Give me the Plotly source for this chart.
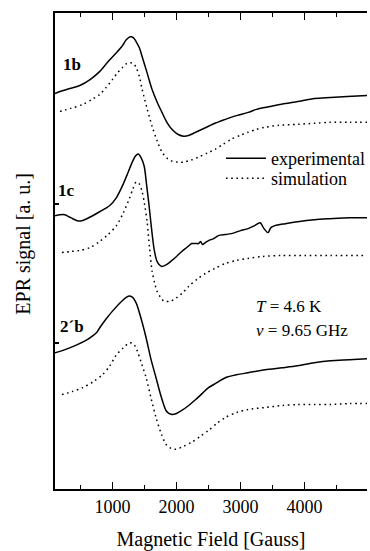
import plotly.graph_objects as go

# Magnetic field (Gauss) and EPR signal (arbitrary units, vertically offset per sample)
b1_exp_field = [103, 180, 336, 490, 650, 799, 930, 1062, 1155, 1216, 1278, 1330, 1371, 1420, 1464, 1540, 1619, 1700, 1773, 1850, 1928, 2020, 2113, 2200, 2299, 2400, 2500, 2600, 2680, 2763, 2850, 2950, 3118, 3250, 3380, 3536, 3700, 3892, 4155, 4402, 4665, 4974]
b1_exp_signal = [398, 400, 403, 406, 412, 420, 430, 439, 446, 452, 455, 454, 450, 444, 435, 419, 402, 389, 379, 369, 362, 357, 355, 356, 359, 362, 365, 368, 370, 372, 374, 376, 379, 382, 384, 386, 388, 390, 393, 394, 395, 396]

b1_sim_field = [180, 350, 536, 680, 799, 900, 1000, 1080, 1155, 1220, 1278, 1330, 1371, 1420, 1464, 1540, 1619, 1700, 1773, 1850, 1928, 2020, 2113, 2230, 2345, 2480, 2608, 2730, 2856, 3000, 3118, 3250, 3381, 3600, 3892, 4150, 4402, 4700, 4974]
b1_sim_signal = [380, 383, 387, 392, 397, 404, 412, 419, 424, 428, 429, 428, 424, 415, 402, 383, 365, 350, 339, 333, 330, 329, 329, 331, 334, 338, 342, 347, 352, 356, 359, 362, 364, 366, 367, 368, 369, 369, 369]

c1_exp_field = [103, 180, 258, 320, 381, 450, 521, 600, 691, 800, 954, 1060, 1155, 1240, 1309, 1360, 1402, 1450, 1495, 1535, 1572, 1610, 1649, 1690, 1727, 1773, 1850, 1928, 2000, 2082, 2160, 2237, 2300, 2345, 2376, 2407, 2450, 2500, 2580, 2655, 2760, 2856, 3000, 3118, 3220, 3304, 3366, 3428, 3474, 3536, 3700, 3892, 4155, 4402, 4700, 4974]
c1_exp_signal = [275, 276, 276, 274, 272, 270, 270, 272, 275, 279, 285, 293, 305, 318, 329, 335, 337, 333, 325, 305, 285, 262, 242, 230, 226, 224, 226, 230, 234, 239, 243, 247, 247, 247, 249, 246, 248, 250, 252, 255, 256, 257, 260, 262, 265, 268, 262, 258, 263, 265, 267, 269, 271, 272, 273, 273]

c1_sim_field = [211, 350, 490, 650, 799, 930, 1062, 1170, 1263, 1320, 1371, 1420, 1464, 1500, 1541, 1580, 1619, 1660, 1696, 1750, 1804, 1900, 1990, 2090, 2191, 2320, 2454, 2600, 2763, 2940, 3118, 3350, 3629, 4000, 4402, 4974]
c1_sim_signal = [238, 239, 240, 243, 249, 256, 265, 278, 292, 302, 309, 307, 299, 287, 269, 242, 219, 207, 199, 193, 189, 189, 192, 197, 204, 211, 217, 222, 227, 230, 232, 234, 235, 235, 235, 235]

b2_exp_field = [103, 250, 443, 600, 691, 760, 799, 900, 1000, 1130, 1247, 1310, 1371, 1440, 1526, 1600, 1680, 1760, 1835, 1880, 1928, 2000, 2082, 2190, 2299, 2400, 2500, 2630, 2763, 2940, 3118, 3381, 3650, 3892, 4150, 4402, 4700, 4974]
b2_exp_signal = [137, 140, 145, 150, 154, 158, 162, 171, 179, 188, 194, 193, 187, 173, 152, 131, 112, 93, 79, 76, 75, 76, 79, 84, 90, 96, 102, 107, 112, 115, 117, 120, 122, 124, 127, 129, 130, 131]

b2_sim_field = [211, 370, 536, 700, 845, 960, 1062, 1170, 1263, 1330, 1387, 1450, 1526, 1600, 1680, 1760, 1835, 1910, 1990, 2110, 2237, 2370, 2500, 2630, 2763, 2940, 3118, 3381, 3650, 3892, 4150, 4402, 4700, 4974]
b2_sim_signal = [95, 98, 102, 108, 115, 124, 135, 142, 147, 146, 139, 127, 112, 92, 72, 56, 45, 41, 40, 43, 47, 53, 59, 66, 72, 77, 80, 82, 84, 85, 85, 85, 86, 86]

sample_labels = ["1b", "1c", "2\u00b4b"]
label_fields = [366, 289, 366]
label_signals = [427, 300, 164]

x_tick_vals = [1000, 2000, 3000, 4000]
x_tick_text = ["1000", "2000", "3000", "4000"]

FONT = "Liberation Serif"
DOT = "1.6px,3.6px"

fig = go.Figure()

series = [
    (b1_exp_field, b1_exp_signal, "solid", "experimental", True, "legend"),
    (b1_sim_field, b1_sim_signal, DOT, "simulation", True, "legend2"),
    (c1_exp_field, c1_exp_signal, "solid", "experimental", False, "legend"),
    (c1_sim_field, c1_sim_signal, DOT, "simulation", False, "legend2"),
    (b2_exp_field, b2_exp_signal, "solid", "experimental", False, "legend"),
    (b2_sim_field, b2_sim_signal, DOT, "simulation", False, "legend2"),
]
for xs, ys, dash, name, show, leg in series:
    fig.add_trace(go.Scatter(
        x=xs, y=ys, mode="lines", name=name, showlegend=show,
        legendgroup=name, legend=leg,
        line=dict(color="black", width=1.5, dash=dash, shape="spline", smoothing=0.8),
    ))

for lab, fx, fy in zip(sample_labels, label_fields, label_signals):
    fig.add_annotation(x=fx, y=fy, text="<b>%s</b>" % lab, showarrow=False,
                       font=dict(family=FONT, size=17, color="black"),
                       xanchor="center", yanchor="middle")

fig.add_annotation(xref="paper", yref="paper", x=0.638, y=0.383,
                   text="<i>T</i> = 4.6 K", showarrow=False, xanchor="left", yanchor="middle",
                   font=dict(family=FONT, size=17, color="black"))
fig.add_annotation(xref="paper", yref="paper", x=0.638, y=0.333,
                   text="<i>\u03bd</i> = 9.65 GHz", showarrow=False, xanchor="left", yanchor="middle",
                   font=dict(family=FONT, size=17, color="black"))

# y-axis title
fig.add_annotation(xref="paper", yref="paper", x=-0.1, y=0.515,
                   text="EPR signal [a. u.]", showarrow=False, textangle=-90,
                   xanchor="center", yanchor="middle",
                   font=dict(family=FONT, size=20, color="black"))

legend_style = dict(xanchor="left", yanchor="top", bgcolor="rgba(0,0,0,0)", borderwidth=0,
                    font=dict(family=FONT, size=18, color="black"), itemwidth=40)

fig.update_layout(
    width=370, height=551,
    margin=dict(l=55, r=0, t=13, b=59),
    paper_bgcolor="white", plot_bgcolor="white",
    font=dict(family=FONT, color="black"),
    showlegend=True,
    legend=dict(x=0.532, y=0.733, **legend_style),
    legend2=dict(x=0.532, y=0.691, **legend_style),
    xaxis=dict(
        range=[103, 4974], showgrid=False, zeroline=False,
        showline=True, linecolor="black", linewidth=2, mirror="ticks",
        ticks="inside", ticklen=7, tickwidth=1.5, tickcolor="black",
        tickvals=x_tick_vals, ticktext=x_tick_text,
        tickfont=dict(family=FONT, size=18, color="black"),
        minor=dict(dtick=500, tick0=0, ticks="inside", ticklen=4, tickwidth=1.5, tickcolor="black"),
        title=dict(text="Magnetic Field [Gauss]", font=dict(family=FONT, size=20, color="black"), standoff=20),
    ),
    yaxis=dict(
        range=[0, 479], showgrid=False, zeroline=False,
        showline=True, linecolor="black", linewidth=2,
        ticks="inside", ticklen=4, tickwidth=1.5, tickcolor="black",
        tickvals=[147, 287], showticklabels=False,
    ),
)

fig.write_html(
    "out.html",
    config={"displayModeBar": False, "staticPlot": True},
    post_script="document.documentElement.style.overflow='hidden';"
                "document.body.style.margin='0';document.body.style.overflow='hidden';",
)
